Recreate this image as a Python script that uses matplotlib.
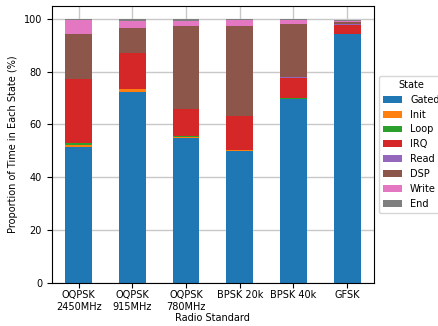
import numpy as np
import matplotlib
matplotlib.use("Agg")
import matplotlib.pyplot as plt

# radio standards on the x axis
standards = ["OQPSK\n2450MHz", "OQPSK\n915MHz", "OQPSK\n780MHz", "BPSK 20k", "BPSK 40k", "GFSK"]
states = ["Gated", "Init", "Loop", "IRQ", "Read", "DSP", "Write", "End"]

# percent of time in each state
gated = [51.4, 72.3, 55.0, 49.9, 69.7, 94.3]
init = [0.8, 1.1, 0.4, 0.4, 0.0, 0.0]
loop = [0.6, 0.0, 0.4, 0.0, 0.3, 0.0]
irq = [24.5, 13.8, 10.1, 13.0, 7.6, 3.3]
read = [0.0, 0.0, 0.0, 0.0, 0.4, 0.4]
dsp = [17.0, 9.4, 31.5, 34.0, 20.1, 0.8]
write = [5.2, 2.8, 2.0, 2.4, 1.6, 0.5]
end = [0.5, 0.6, 0.6, 0.3, 0.3, 0.5]

plt.rcParams["font.size"] = 7

fig = plt.figure(figsize=(4.39, 3.26), dpi=100)
ax = fig.add_axes([0.118, 0.133, 0.734, 0.849])

x = np.arange(len(standards))
bottom = np.zeros(len(standards))
for i, (name, vals) in enumerate(zip(states, [gated, init, loop, irq, read, dsp, write, end])):
    ax.bar(x, vals, width=0.5, bottom=bottom, color=f"C{i}", label=name)
    bottom += np.array(vals)

ax.set_xlim(-0.5, 5.5)
ax.set_ylim(0, 105)
ax.set_xticks(x)
ax.set_xticklabels(standards, rotation=0)
ax.tick_params(axis="x", pad=2)
ax.set_xlabel("Radio Standard", labelpad=1)
ax.set_ylabel("Proportion of Time in Each State (%)")
ax.grid(True, color="#c8c8c8", linewidth=1.0)
ax.set_axisbelow(True)
ax.legend(title="State", loc="center left", bbox_to_anchor=(1.0, 0.5))

fig.savefig("out.png", dpi=100)
